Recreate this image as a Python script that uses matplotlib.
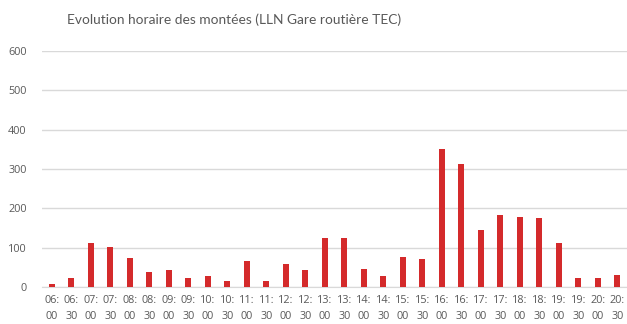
import matplotlib
matplotlib.use("Agg")
import matplotlib.pyplot as plt
import numpy as np

# Half-hour slots and number of boardings per slot
slots = ["06:00", "06:30", "07:00", "07:30", "08:00", "08:30", "09:00", "09:30",
         "10:00", "10:30", "11:00", "11:30", "12:00", "12:30", "13:00", "13:30",
         "14:00", "14:30", "15:00", "15:30", "16:00", "16:30", "17:00", "17:30",
         "18:00", "18:30", "19:00", "19:30", "20:00", "20:30"]
boardings = [8, 24, 113, 102, 75, 38, 44, 24, 29, 16, 65, 16, 59, 43, 124, 124,
             47, 29, 77, 70, 351, 313, 145, 182, 179, 176, 113, 23, 24, 31]
y_ticks = [0, 100, 200, 300, 400, 500, 600]

plt.rcParams['font.family'] = ['Open Sans', 'DejaVu Sans']
text_grey = "#595959"

fig = plt.figure(figsize=(6.27, 3.24), dpi=100)
ax = fig.add_axes([42 / 627, 37 / 324, 585 / 627, 236 / 324])

x = np.arange(len(slots))
ax.bar(x, boardings, width=0.31, color="#D42A2B", zorder=3)

ax.set_xlim(-0.5, len(slots) - 0.5)
ax.set_ylim(0, 600)
ax.set_yticks(y_ticks)
ax.set_yticklabels([str(v) for v in y_ticks])
ax.set_xticks(x)
ax.set_xticklabels([s.replace(":", ":\n") for s in slots], linespacing=1.55)

ax.grid(axis="y", color="#D9D9D9", linewidth=1, zorder=0)
for side in ["top", "right", "left"]:
    ax.spines[side].set_visible(False)
ax.spines["bottom"].set_color("#D9D9D9")
ax.tick_params(axis="both", length=0, colors=text_grey, labelsize=7.8)
ax.tick_params(axis="y", pad=11)
ax.tick_params(axis="x", pad=6)

fig.text(234 / 627, 1 - 20 / 324, "Evolution horaire des montées (LLN Gare routière TEC)",
         ha="center", va="center", fontsize=9.9, color=text_grey,
         family=['Lato', 'Open Sans', 'DejaVu Sans'])

fig.savefig("out.png", dpi=100, facecolor="white")
